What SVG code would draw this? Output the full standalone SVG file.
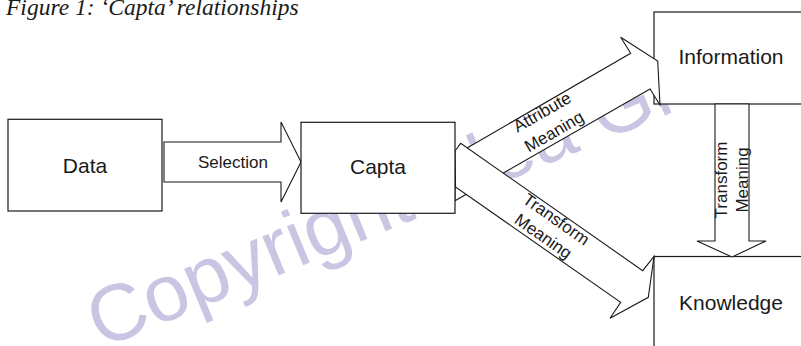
<svg xmlns="http://www.w3.org/2000/svg" width="801" height="346" viewBox="0 0 801 346">
<style>
.box{fill:#fff;stroke:#1a1a1a;stroke-width:1.2}
.arr{fill:#fff;stroke:#1a1a1a;stroke-width:1.1;stroke-linejoin:miter}
.node{font-family:"Liberation Sans",Arial,sans-serif;font-size:21px;fill:#1a1a1a;text-anchor:middle}
.lbl{font-family:"Liberation Sans",Arial,sans-serif;font-size:17px;fill:#1a1a1a;text-anchor:middle}
.wm{font-family:"Liberation Sans",Arial,sans-serif;font-size:80px;fill:#c9c6e4}
.title{font-family:"Liberation Serif","Times New Roman",serif;font-style:italic;font-size:23.5px;fill:#1a1a1a}
</style>
<rect width="801" height="346" fill="#fff"/>
<text class="title" x="6" y="15">Figure 1: ‘Capta’ relationships</text>
<text class="wm" transform="translate(101,349) rotate(-22.5)">Copyright Idea Group Inc.</text>
<g id="information"><rect class="box" x="654" y="12" width="200" height="92"/><text class="node" x="731" y="64">Information</text></g>
<g id="knowledge"><rect class="box" x="654" y="256.5" width="200" height="200"/><text class="node" x="731" y="310">Knowledge</text></g>
<g id="connectors">
<g id="attribute-meaning"><polygon class="arr" points="455,154.9 630.7,53.3 620.7,37.3 657.7,61 660,105 650,89 455,200.7"/>
<text class="lbl" transform="translate(545,117) rotate(-30)">Attribute</text>
<text class="lbl" transform="translate(557,136.5) rotate(-30)">Meaning</text></g>
<g id="transform-meaning-diag"><polygon class="arr" points="455,151 460.7,143.3 642.7,270.7 654,256.5 648.3,297.3 610,318.3 620.7,302.3 455.5,187"/>
<text class="lbl" transform="translate(553,224) rotate(35)">Transform</text>
<text class="lbl" transform="translate(540,241) rotate(35)">Meaning</text></g>
<g id="transform-meaning-vert"><polygon class="arr" points="715,104 749,104 749,241 766,241 732,257 697,241 715,241"/>
<text class="lbl" transform="translate(727,180) rotate(-90)">Transform</text>
<text class="lbl" transform="translate(748,180) rotate(-90)">Meaning</text></g>
<g id="selection"><polygon class="arr" points="164,142 281,142 281,122 301,162 281,202 281,182 164,182"/>
<text class="lbl" x="233" y="167.5">Selection</text></g>
</g>
<g id="data"><rect class="box" x="8" y="119.3" width="154" height="91.7"/><text class="node" x="85" y="172.5">Data</text></g>
<g id="capta"><rect class="box" x="301" y="122.3" width="154" height="91"/><text class="node" x="378" y="174.3">Capta</text></g>
</svg>
